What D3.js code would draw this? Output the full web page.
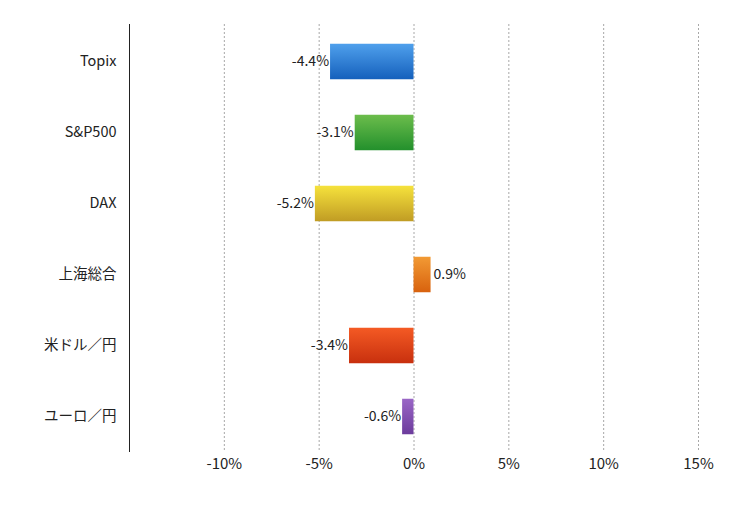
<!DOCTYPE html>
<html><head><meta charset="utf-8">
<script src="https://cdn.jsdelivr.net/npm/d3@7"></script>
<style>body{margin:0;background:#fff;} text{font-family:"Noto Sans CJK JP","Noto Sans",sans-serif;}</style>
</head><body>
<svg id="c" width="750" height="505"></svg>
<script>
const categories = ["Topix","S&P500","DAX","上海総合","米ドル／円","ユーロ／円"];
const values = [-4.4,-3.1,-5.2,0.9,-3.4,-0.6];
const tickValues = [-10,-5,0,5,10,15];
const colorTop = ["#4fa0ec","#6cbd4c","#f6e23c","#f29a34","#f45a24","#9a66c6"];
const colorBottom = ["#1560bc","#23902c","#c09c24","#d8620e","#c8300e","#6c3c9c"];

const svg = d3.select("#c");
const x = d3.scaleLinear().domain([-15,15]).range([129,698]);
const y = d3.scaleBand().domain(categories).range([26,452]).paddingInner(0.5).paddingOuter(0.25);

const defs = svg.append("defs");
categories.forEach((c,i)=>{
  const g = defs.append("linearGradient").attr("id","g"+i).attr("x1",0).attr("y1",0).attr("x2",0).attr("y2",1);
  g.append("stop").attr("offset","0%").attr("stop-color",colorTop[i]);
  g.append("stop").attr("offset","100%").attr("stop-color",colorBottom[i]);
});

// gridlines
svg.append("g").selectAll("line").data(tickValues).join("line")
  .attr("x1",d=>x(d)+0.5).attr("x2",d=>x(d)+0.5).attr("y1",24).attr("y2",452)
  .attr("stroke","#a8a8a8").attr("stroke-width",1).attr("stroke-dasharray","2,2");

// x axis labels
const xa = svg.append("g").attr("transform","translate(0,452)")
  .call(d3.axisBottom(x).tickValues(tickValues).tickSize(0).tickPadding(6).tickFormat(d=>d+"%"));
xa.select(".domain").remove();
xa.selectAll("text").attr("font-size",15).attr("fill","#222").style("font-family","'Noto Sans CJK JP','Noto Sans',sans-serif");

// bars
svg.append("g").selectAll("rect").data(values).join("rect")
  .attr("x",d=>x(Math.min(0,d))).attr("width",d=>Math.abs(x(d)-x(0)))
  .attr("y",(d,i)=>y(categories[i])).attr("height",y.bandwidth())
  .attr("fill",(d,i)=>`url(#g${i})`);

// value labels
svg.append("g").selectAll("text").data(values).join("text")
  .attr("x",d=>d<0?x(d)-1:x(d)+3)
  .attr("y",(d,i)=>y(categories[i])+y.bandwidth()/2)
  .attr("dy","0.35em").attr("text-anchor",d=>d<0?"end":"start")
  .attr("font-size",14).attr("fill","#222").text(d=>d.toFixed(1)+"%");

// y axis
const ya = svg.append("g").attr("transform","translate(129.5,0)")
  .call(d3.axisLeft(y).tickSize(0).tickPadding(13));
ya.select(".domain").attr("d","M0,24V452").attr("stroke","#222");
ya.selectAll("text").attr("font-size",14.5).attr("fill","#222").style("font-family","'Noto Sans CJK JP','Noto Sans',sans-serif");
</script>
</body></html>
